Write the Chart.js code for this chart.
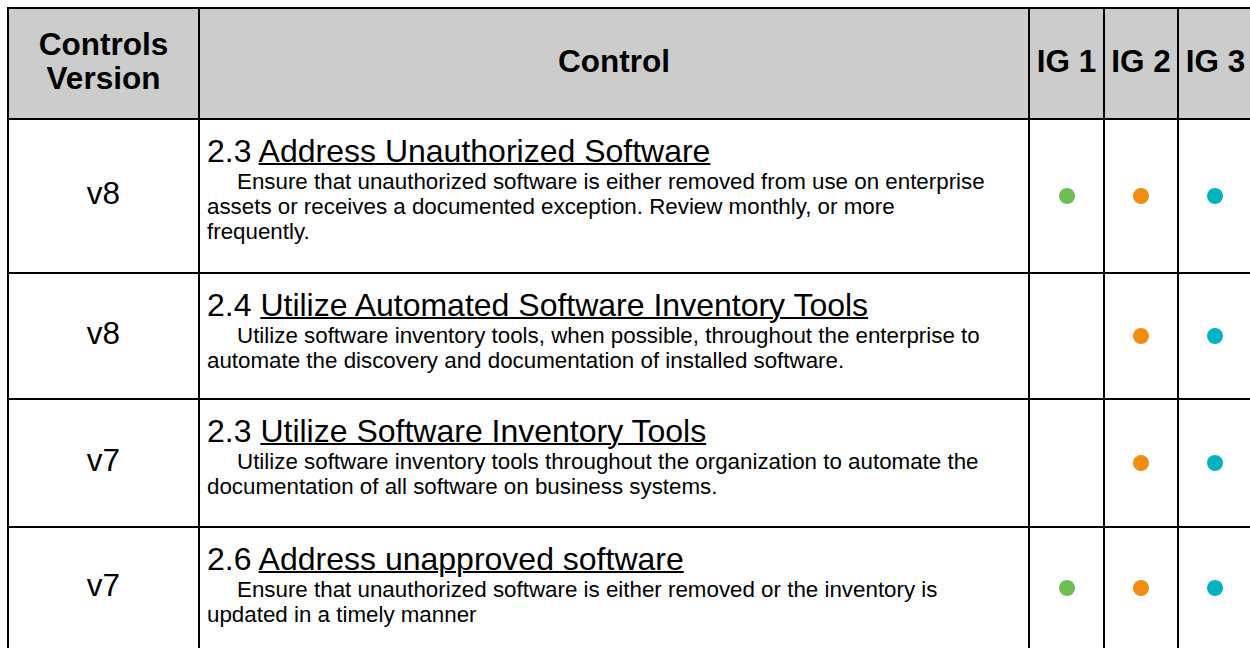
<!DOCTYPE html>
<html>
<head>
<meta charset="utf-8">
<script src="https://cdn.jsdelivr.net/npm/chart.js@4"></script>
<style>
  html, body { margin: 0; padding: 0; background: #fff; overflow: hidden; }
  body { width: 1250px; height: 648px; font-family: "Liberation Sans", Arial, sans-serif; color: #000; }
  #grid {
    position: absolute; left: 7px; top: 7px;
    display: grid;
    grid-template-columns: 189px 828px 73px 72px 73px;
    grid-template-rows: 109px 152px 124px 126px 120px;
    gap: 2px;
    background: #000;
    border: 2px solid #000;
  }
  .cell { background: #fff; position: relative; }
  .head { background: #cccccc; font-weight: bold; font-size: 31.5px; line-height: 34px;
          display: flex; align-items: center; justify-content: center; text-align: center;
          padding-bottom: 6px; box-sizing: border-box; }
  .ver { font-size: 31.5px; display: flex; align-items: center; justify-content: center;
         padding-bottom: 6px; box-sizing: border-box; }
  .ctl { padding: 13px 0 0 7px; box-sizing: border-box; white-space: nowrap; }
  .ctl .title { font-size: 32px; line-height: 36px; }
  .ctl .title a { color: #000; text-decoration: underline; text-decoration-thickness: 2px; }
  .ctl .desc { font-size: 22.35px; line-height: 25px; }
  .ctl .desc div:first-child { text-indent: 30px; }
  .dots { position: relative; background: transparent; z-index: 2; }
</style>
</head>
<body>
<div id="grid"></div>
<script>
// header labels
const headers = ['Controls<br>Version', 'Control', 'IG 1', 'IG 2', 'IG 3'];

// rows
const versions = ['v8', 'v8', 'v7', 'v7'];
const controlIds = ['2.3', '2.4', '2.3', '2.6'];
const titles = [
  'Address Unauthorized Software',
  'Utilize Automated Software Inventory Tools',
  'Utilize Software Inventory Tools',
  'Address unapproved software'
];
const descriptions = [
  ['Ensure that unauthorized software is either removed from use on enterprise',
   'assets or receives a documented exception. Review monthly, or more',
   'frequently.'],
  ['Utilize software inventory tools, when possible, throughout the enterprise to',
   'automate the discovery and documentation of installed software.'],
  ['Utilize software inventory tools throughout the organization to automate the',
   'documentation of all software on business systems.'],
  ['Ensure that unauthorized software is either removed or the inventory is',
   'updated in a timely manner']
];

// implementation groups (1 = applies)
const igLabels = ['IG 1', 'IG 2', 'IG 3'];
const ig1 = [1, 0, 0, 1];
const ig2 = [1, 1, 1, 1];
const ig3 = [1, 1, 1, 1];
const igColors = ['#6bbe4f', '#f38c12', '#00b2c0'];

const grid = document.getElementById('grid');

function addCell(cls, row, col, html, span) {
  const d = document.createElement('div');
  d.className = 'cell ' + cls;
  d.style.gridRow = row;
  d.style.gridColumn = span ? col + ' / span ' + span : col;
  if (html !== undefined) d.innerHTML = html;
  grid.appendChild(d);
  return d;
}

headers.forEach((h, i) => addCell('head', 1, i + 1, h));

versions.forEach((v, r) => {
  const row = r + 2;
  addCell('ver', row, 1, v);
  addCell('ctl', row, 2,
    `<div class="title">${controlIds[r]} <a href="#">${titles[r]}</a></div>` +
    `<div class="desc">${descriptions[r].map(l => '<div>' + l + '</div>').join('')}</div>`);
  addCell('', row, 3);
  addCell('', row, 4);
  addCell('', row, 5);

  // transparent overlay across the three IG cells of this row
  const box = addCell('dots', row, 3, undefined, 3);
  const canvas = document.createElement('canvas');
  box.appendChild(canvas);
  const flags = [ig1[r], ig2[r], ig3[r]];
  new Chart(canvas.getContext('2d'), {
    type: 'line',
    data: {
      labels: igLabels,
      datasets: [{
        data: flags.map(f => f ? 0 : null),
        showLine: false,
        pointRadius: 8,
        pointBorderWidth: 0,
        pointBackgroundColor: igColors,
        pointBorderColor: igColors
      }]
    },
    options: {
      responsive: true,
      maintainAspectRatio: false,
      animation: false,
      layout: { padding: 0, autoPadding: false },
      plugins: { legend: { display: false }, tooltip: { enabled: false } },
      scales: {
        x: { display: false, offset: true },
        y: { display: false, min: -1, max: 1 }
      }
    }
  });
});
</script>
</body>
</html>
